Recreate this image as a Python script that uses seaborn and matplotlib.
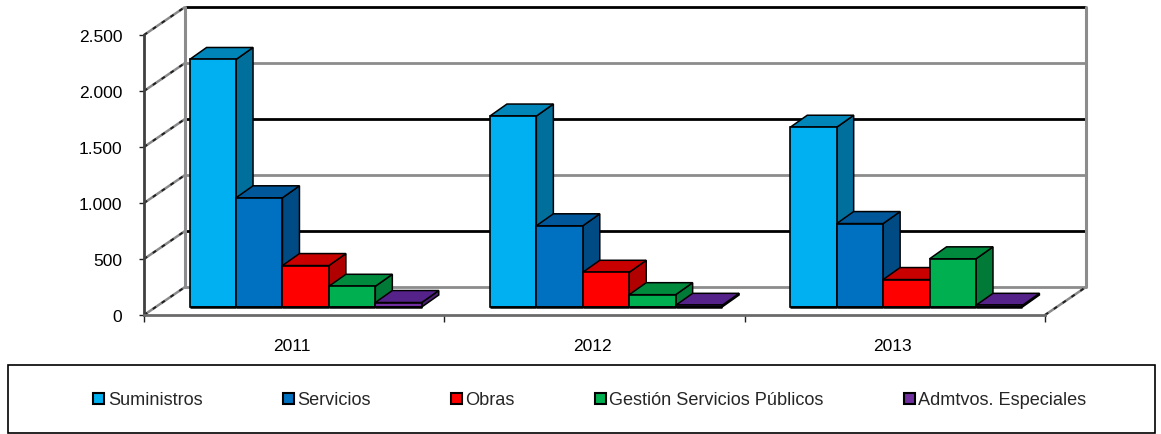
import pandas as pd
import seaborn as sns
import matplotlib.pyplot as plt
from matplotlib.patches import Polygon, Rectangle
from matplotlib.transforms import ScaledTranslation

years = ['2011', '2012', '2013']
tipos = ['Suministros', 'Servicios', 'Obras', 'Gestión Servicios Públicos', 'Admtvos. Especiales']
suministros = [2210, 1705, 1605]
servicios = [975, 725, 745]
obras = [370, 310, 245]
gestion = [185, 110, 430]
admtvos = [40, 15, 15]
ytick_vals = [0, 500, 1000, 1500, 2000, 2500]
ytick_labels = ['0', '500', '1.000', '1.500', '2.000', '2.500']

front_cols = ['#00B0F0', '#0070C0', '#FF0000', '#00B050', '#7030A0']
side_cols = ['#006F9C', '#004B83', '#B00000', '#007A36', '#4A1F70']
top_cols = ['#0085B8', '#00589B', '#C80000', '#008A3E', '#55228A']

rows = []
for t, vals in zip(tipos, [suministros, servicios, obras, gestion, admtvos]):
    for y, v in zip(years, vals):
        rows.append({'year': y, 'tipo': t, 'valor': v})
df = pd.DataFrame(rows)

sns.set_theme(style='white')
plt.rcParams['font.family'] = ['Liberation Sans', 'DejaVu Sans']

W, H = 1161, 434
fig = plt.figure(figsize=(W / 100, H / 100), dpi=100)
ax = fig.add_axes([144 / W, (H - 315) / H, 901 / W, 280 / H])
ax.patch.set_alpha(0)

sns.barplot(data=df, x='year', y='valor', hue='tipo', hue_order=tipos, order=years,
            palette=front_cols, width=0.773, saturation=1, edgecolor='black',
            linewidth=1.2, ax=ax, legend=True)
ax.set_xlim(-0.5, 2.5)
ax.set_ylim(0, 2500)

# pixel -> data
px = 3 / 901
py = 2500 / 280
wall_dx, wall_dy = 41 * px, 28 * py
bar_dx, bar_dy = 11.5 * px, 8 * py
depth_dx, depth_dy = 17 * px, 12 * py


def speckled(x0, y0):
    ax.plot([x0, x0 + wall_dx], [y0, y0 + wall_dy], color='#8a8a8a', lw=1.8,
            clip_on=False, zorder=1, solid_capstyle='butt')
    ax.plot([x0, x0 + wall_dx], [y0, y0 + wall_dy], color='#202020', lw=1.4,
            ls=(0, (2, 3.5)), clip_on=False, zorder=1.1)


# back wall + side wall
x_left, x_right = -0.5, 2.5
for i, v in enumerate(ytick_vals):
    col = '#8c8c8c' if i % 2 == 0 else '#000000'
    ax.plot([x_left + wall_dx, x_right + wall_dx], [v + wall_dy, v + wall_dy], color=col,
            lw=2.0, clip_on=False, zorder=1, solid_capstyle='butt')
    speckled(x_left, v)
speckled(x_right, 0)
for x0 in (x_left, x_right):
    ax.plot([x0 + wall_dx, x0 + wall_dx], [wall_dy, 2500 + wall_dy], color='#8c8c8c',
            lw=2.2, clip_on=False, zorder=1.2)

# bars: move to mid depth and add the side and top faces
for i, cont in enumerate(ax.containers):
    z = 3 + i
    for bar in cont:
        x0 = bar.get_x() + bar_dx
        x1 = x0 + bar.get_width()
        y0 = bar_dy
        y1 = y0 + bar.get_height()
        bar.set_x(x0)
        bar.set_y(y0)
        bar.set_clip_on(False)
        bar.set_zorder(z + 0.5)
        side = [(x1, y0), (x1 + depth_dx, y0 + depth_dy), (x1 + depth_dx, y1 + depth_dy), (x1, y1)]
        top = [(x0, y1), (x0 + depth_dx, y1 + depth_dy), (x1 + depth_dx, y1 + depth_dy), (x1, y1)]
        ax.add_patch(Polygon(side, closed=True, fc=side_cols[i], ec='black', lw=1.1,
                             clip_on=False, zorder=z))
        ax.add_patch(Polygon(top, closed=True, fc=top_cols[i], ec='black', lw=1.1,
                             clip_on=False, zorder=z))
        ax.plot([x0, x1], [y0, y0], color='black', lw=1.8, clip_on=False,
                zorder=z + 0.6, solid_capstyle='butt')

# axes
sns.despine(ax=ax)
ax.spines['left'].set_color('#404040')
ax.spines['left'].set_linewidth(2.0)
ax.spines['bottom'].set_color('#6a6a6a')
ax.spines['bottom'].set_linewidth(2.0)
ax.set_xlabel('')
ax.set_ylabel('')
ax.set_yticks(ytick_vals)
ax.set_yticklabels(ytick_labels)
ax.set_xticks([-0.5, 0.5, 1.5, 2.5], minor=True)
ax.tick_params(axis='y', left=True, length=3.5, width=1.0, color='#202020', pad=12,
               labelsize=12.5, labelcolor='black')
ax.tick_params(axis='x', which='major', bottom=False, pad=11.5, labelsize=12.5, labelcolor='black')
ax.tick_params(axis='x', which='minor', bottom=True, length=5, width=1.0, color='#202020')

# small nudges of the tick labels, in points
for lab in ax.get_xticklabels():
    lab.set_transform(lab.get_transform() + ScaledTranslation(-2.5 / 100, 0, fig.dpi_scale_trans))
for lab in ax.get_yticklabels():
    lab.set_transform(lab.get_transform() + ScaledTranslation(0, -1 / 100, fig.dpi_scale_trans))

# legend in its own box below
fig.add_artist(Rectangle((7.5 / W, (H - 433) / H), 1147.5 / W, 68 / H, fc='white', ec='black',
                         lw=1.2, transform=fig.transFigure, zorder=0))
handles, labels = ax.get_legend_handles_labels()
leg = ax.legend(handles, labels, ncol=5, loc='center', bbox_to_anchor=(590 / W, (H - 400.5) / H),
                bbox_transform=fig.transFigure, frameon=False, fontsize=13.1, handlelength=0.6,
                handleheight=0.6, handletextpad=0.2, columnspacing=4.4, borderpad=0, borderaxespad=0)
for h in leg.legend_handles:
    h.set_linewidth(1.5)

plt.savefig('out.png', dpi=100)
